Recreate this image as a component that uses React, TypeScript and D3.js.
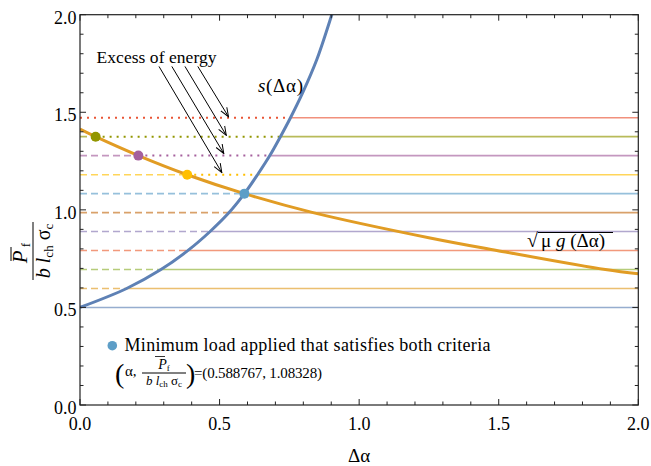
import * as d3 from 'd3';

// axis ticks
const xTickLabels = ['0.0', '0.5', '1.0', '1.5', '2.0'];
const yTickLabels = ['0.0', '0.5', '1.0', '1.5', '2.0'];

// load levels P_f/(b l_ch σ_c), bottom to top, with their colours
const levels = [0.5, 0.597, 0.694, 0.792, 0.889, 0.986, 1.083, 1.18, 1.278, 1.375, 1.472];
const levelColors = ['#5E81B5', '#E19C24', '#8FB032', '#EB6235', '#8778B3', '#C56E1A', '#5D9EC7', '#FFBF00', '#A5609D', '#929600', '#E95536'];
// Δα where s(Δα) reaches each level
const sCross = [0, 0.167, 0.29, 0.387, 0.466, 0.534, 0.589, 0.636, 0.68, 0.718, 0.754];
// Δα where sqrt(μ g) reaches the level (null = below the minimum load, 0 = above the curve)
const dotX: (number | null)[] = [null, null, null, null, null, null, 0.589, 0.384, 0.209, 0.056, 0];

// s(Δα) curve
const sX = [0, 0.167, 0.29, 0.387, 0.466, 0.534, 0.589, 0.636, 0.68, 0.718, 0.754, 0.797, 0.848, 0.902, 0.93];
const sY = [0.5, 0.597, 0.694, 0.792, 0.889, 0.986, 1.083, 1.18, 1.278, 1.375, 1.472, 1.598, 1.769, 2.0, 2.13];
// sqrt(μ g(Δα)) curve
const gX = [0, 0.056, 0.209, 0.384, 0.589, 0.835, 1.254, 1.493, 1.882, 2.0];
const gY = [1.414, 1.375, 1.278, 1.18, 1.083, 0.986, 0.856, 0.792, 0.694, 0.672];

// "Excess of energy" arrows (start -> tip) in data units
const arrowStartX = [0.283, 0.329, 0.376, 0.422];
const arrowStartY = [1.735, 1.735, 1.735, 1.735];
const arrowTipX = [0.508, 0.515, 0.524, 0.532];
const arrowTipY = [1.191, 1.289, 1.382, 1.477];

const W = 651;
const H = 466;
const serif = { fontFamily: 'Liberation Serif' };

export default function App() {
  const x = d3.scaleLinear().domain([0, 2]).range([80, 638.3]);
  const y = d3.scaleLinear().domain([0, 2]).range([405, 14.7]);

  const line = d3.line<[number, number]>()
    .x(d => x(d[0]))
    .y(d => y(d[1]))
    .curve(d3.curveCatmullRom.alpha(0.5));

  const sPath = line(sX.map((v, i) => [v, sY[i]] as [number, number])) ?? '';
  const gPath = line(gX.map((v, i) => [v, gY[i]] as [number, number])) ?? '';

  const ticks = x.ticks(20);
  const isMajor = (t: number) => Math.abs(t * 2 - Math.round(t * 2)) < 1e-6;

  const [x0, x1] = x.range();
  const [y0, y1] = y.range();

  // horizontal level segments
  const segs: { a: number; b: number; lv: number; color: string; kind: string }[] = [];
  levels.forEach((lv, i) => {
    const c = levelColors[i];
    const cross = sCross[i];
    const d = dotX[i];
    if (d == null) {
      if (cross > 0) segs.push({ a: 0, b: cross, lv, color: c, kind: 'dash' });
    } else {
      if (d > 0) segs.push({ a: 0, b: d, lv, color: c, kind: 'dash' });
      if (cross > d) segs.push({ a: d, b: cross, lv, color: c, kind: 'dot' });
    }
    segs.push({ a: cross, b: 2, lv, color: c, kind: 'solid' });
  });

  return (
    <svg width={W} height={H} style={{ position: 'absolute', left: 0, top: 0, background: '#fff' }}>
      <defs>
        <clipPath id="plot">
          <rect x={x0} y={y1} width={x1 - x0} height={y0 - y1} />
        </clipPath>
        <marker id="arr" viewBox="0 0 10 10" refX={9} refY={5} markerWidth={10} markerHeight={10} orient="auto" markerUnits="userSpaceOnUse">
          <path d="M0,1.5 L9,5 L0,8.5" fill="none" stroke="#000" strokeWidth={1} />
        </marker>
      </defs>

      {/* level lines */}
      <g clipPath="url(#plot)">
        {segs.map((s, i) => (
          <line
            key={i}
            x1={x(s.a)}
            x2={x(s.b)}
            y1={y(s.lv)}
            y2={y(s.lv)}
            stroke={s.color}
            strokeWidth={s.kind === 'dot' ? 2 : 1.6}
            strokeOpacity={s.kind === 'dot' ? 1 : 0.65}
            strokeDasharray={s.kind === 'dash' ? '7,4' : s.kind === 'dot' ? '2,5' : undefined}
          />
        ))}
        <path d={gPath} fill="none" stroke="#E19C24" strokeWidth={3} />
        <path d={sPath} fill="none" stroke="#5E81B5" strokeWidth={3} />
        {dotX.map((d, i) => (d != null && d > 0 ? (
          <circle key={i} cx={x(d)} cy={y(levels[i])} r={5} fill={levelColors[i]} />
        ) : null))}
      </g>

      {/* arrows */}
      {arrowStartX.map((sx, i) => (
        <line key={i} x1={x(sx)} y1={y(arrowStartY[i])} x2={x(arrowTipX[i])} y2={y(arrowTipY[i])}
          stroke="#000" strokeWidth={1} markerEnd="url(#arr)" />
      ))}
      <text style={serif} x={96.5} y={62.5} fontSize={17.5} textLength={120}>Excess of energy</text>

      {/* curve labels */}
      <text style={serif} x={258} y={92} fontSize={19} textLength={45}>
        <tspan fontStyle="italic">s</tspan>(Δα)
      </text>
      <text style={serif} x={527} y={247} fontSize={20}>√</text>
      <line x1={538} x2={613} y1={232.5} y2={232.5} stroke="#000" strokeWidth={1} />
      <text style={serif} x={541} y={247} fontSize={19} textLength={64}>
        μ <tspan fontStyle="italic">g</tspan> (Δα)
      </text>

      {/* legend */}
      <circle cx={112.3} cy={345.7} r={4.8} fill="#5D9EC7" />
      <text style={serif} x={124.5} y={351} fontSize={18} textLength={366}>Minimum load applied that satisfies both criteria</text>
      <text style={serif} x={115} y={383} fontSize={28}>(</text>
      <text style={serif} x={125} y={376} fontSize={15}>α,</text>
      <text style={serif} x={164} y={369} fontSize={14} textAnchor="middle">
        <tspan fontStyle="italic">P</tspan><tspan fontSize={9} dy={2}>f</tspan>
      </text>
      <line x1={155} x2={165} y1={356.5} y2={356.5} stroke="#000" strokeWidth={0.8} />
      <line x1={142} x2={186} y1={373} y2={373} stroke="#000" strokeWidth={1} />
      <text style={serif} x={164} y={385} fontSize={13} textAnchor="middle">
        <tspan fontStyle="italic">b</tspan> <tspan fontStyle="italic">l</tspan><tspan fontSize={9} dy={2}>ch</tspan><tspan dy={-2}> σ</tspan><tspan fontSize={9} dy={2}>c</tspan>
      </text>
      <text style={serif} x={186} y={383} fontSize={28}>)</text>
      <text style={serif} x={194} y={378} fontSize={15} textLength={128}>=(0.588767, 1.08328)</text>

      {/* frame and ticks */}
      <rect x={x0} y={y1} width={x1 - x0} height={y0 - y1} fill="none" stroke="#222" strokeWidth={1.2} />
      {ticks.map((t, i) => {
        const len = isMajor(t) ? 6 : 3.5;
        return (
          <g key={i} stroke="#222" strokeWidth={1}>
            <line x1={x(t)} x2={x(t)} y1={y0} y2={y0 - len} />
            <line x1={x(t)} x2={x(t)} y1={y1} y2={y1 + len} />
            <line x1={x0} x2={x0 + len} y1={y(t)} y2={y(t)} />
            <line x1={x1} x2={x1 - len} y1={y(t)} y2={y(t)} />
          </g>
        );
      })}
      {x.ticks(4).map((t, i) => (
        <text style={serif} key={i} x={x(t)} y={430} fontSize={18} textAnchor="middle">{xTickLabels[i]}</text>
      ))}
      {y.ticks(4).map((t, i) => (
        <text style={serif} key={i} x={76.5} y={y(t) + 9} fontSize={18} textAnchor="end">{yTickLabels[i]}</text>
      ))}

      {/* axis labels */}
      <text style={serif} x={(x0 + x1) / 2} y={462} fontSize={19} textAnchor="middle">Δα</text>
      <g transform="translate(33,251) rotate(-90)">
        <line x1={-29} x2={29} y1={0} y2={0} stroke="#000" strokeWidth={1} />
        <text style={serif} x={-2} y={-6} fontSize={21} textAnchor="middle">
          <tspan fontStyle="italic">P</tspan><tspan fontSize={13} dy={3}> f</tspan>
        </text>
        <line x1={-10} x2={4} y1={-22} y2={-22} stroke="#000" strokeWidth={1} />
        <text style={serif} x={0} y={17} fontSize={20} textAnchor="middle">
          <tspan fontStyle="italic">b</tspan> <tspan fontStyle="italic">l</tspan><tspan fontSize={13} dy={3}>ch</tspan><tspan dy={-3}> σ</tspan><tspan fontSize={13} dy={3}>c</tspan>
        </text>
      </g>
    </svg>
  );
}
